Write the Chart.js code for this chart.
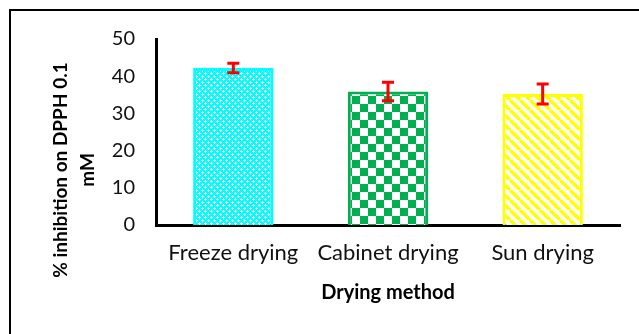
<!DOCTYPE html>
<html>
<head>
<meta charset="utf-8">
<script src="https://cdn.jsdelivr.net/npm/chart.js@4"></script>
<style>
  html, body { margin: 0; padding: 0; background: #fff; }
  #wrap { width: 639px; height: 334px; }
</style>
</head>
<body>
<div id="wrap"><canvas id="grafico" width="639" height="334"></canvas></div>
<script>
// dados
const metodos = ['Freeze drying', 'Cabinet drying', 'Sun drying'];
const inibicao = [42.2, 35.9, 35.2];
const erros = [1.3, 2.5, 2.7];
const ticksY = [0, 10, 20, 30, 40, 50];

const fonte = 'Lato, "Open Sans", sans-serif';

// padroes de preenchimento
function padrao(tipo) {
    const c = document.createElement('canvas');
    const g = c.getContext('2d');
    if (tipo === 'pontos') {
        c.width = 6; c.height = 6;
        g.fillStyle = '#00FFFF';
        g.fillRect(0, 0, 6, 6);
        g.fillStyle = '#FFFFFF';
        g.fillRect(1, 0, 1, 3);
        g.fillRect(0, 1, 3, 1);
        g.fillRect(4, 3, 1, 3);
        g.fillRect(3, 4, 3, 1);
    } else if (tipo === 'xadrez') {
        c.width = 16; c.height = 16;
        g.fillStyle = '#FFFFFF';
        g.fillRect(0, 0, 16, 16);
        g.fillStyle = '#00B050';
        g.fillRect(0, 0, 8, 8);
        g.fillRect(8, 8, 8, 8);
    } else {
        c.width = 10; c.height = 10;
        g.fillStyle = '#FFFFFF';
        g.fillRect(0, 0, 10, 10);
        g.strokeStyle = '#FFFF00';
        g.lineWidth = 3.5;
        g.beginPath();
        for (let k = -10; k <= 10; k += 10) {
            g.moveTo(k, 0);
            g.lineTo(k + 10, 10);
        }
        g.stroke();
    }
    return g.createPattern(c, 'repeat');
}

const moldura = {
    id: 'moldura',
    beforeDraw(chart) {
        const ctx = chart.ctx;
        ctx.save();
        ctx.strokeStyle = '#000';
        ctx.lineWidth = 2;
        ctx.strokeRect(10, 10, 700, 400);
        ctx.restore();
    }
};

const barrasErro = {
    id: 'barrasErro',
    afterDatasetsDraw(chart) {
        const ctx = chart.ctx;
        const y = chart.scales.y;
        const meta = chart.getDatasetMeta(0);
        ctx.save();
        ctx.strokeStyle = '#FF0000';
        ctx.lineWidth = 3;
        meta.data.forEach((bar, i) => {
            const v = inibicao[i];
            const top = y.getPixelForValue(v + erros[i]);
            const bot = y.getPixelForValue(v - erros[i]);
            ctx.beginPath();
            ctx.moveTo(bar.x, top); ctx.lineTo(bar.x, bot);
            ctx.moveTo(bar.x - 6, top); ctx.lineTo(bar.x + 6, top);
            ctx.moveTo(bar.x - 6, bot); ctx.lineTo(bar.x + 6, bot);
            ctx.stroke();
        });
        ctx.restore();
    }
};

const tituloY = {
    id: 'tituloY',
    afterDraw(chart) {
        const ctx = chart.ctx;
        ctx.save();
        ctx.fillStyle = '#000';
        ctx.font = 'bold 19px ' + fonte;
        ctx.textAlign = 'center';
        ctx.textBaseline = 'middle';
        ctx.translate(61, 170);
        ctx.rotate(-Math.PI / 2);
        ctx.fillText('% inhibition on DPPH 0.1', 0, 0);
        ctx.fillText('mM', 0, 27);
        ctx.restore();
    }
};

const ctxBarra = document.getElementById('grafico').getContext('2d');
const grafico = new Chart(ctxBarra, {
    type: 'bar',
    data: {
        labels: metodos,
        datasets: [{
            label: '% inhibition',
            data: inibicao,
            backgroundColor: [padrao('pontos'), padrao('xadrez'), padrao('listras')],
            borderColor: ['#00FFFF', '#00B050', '#FFFF00'],
            borderWidth: 3,
            borderSkipped: 'bottom',
            categoryPercentage: 1,
            barPercentage: 0.52
        }]
    },
    options: {
        responsive: false,
        animation: false,
        devicePixelRatio: 1,
        layout: { padding: { left: 46, top: 39, right: 19, bottom: 0 } },
        plugins: {
            legend: { display: false },
            tooltip: { enabled: false }
        },
        scales: {
            x: {
                grid: { display: false, drawTicks: false },
                border: { color: '#000', width: 3 },
                ticks: { color: '#111', font: { family: fonte, size: 22 }, padding: 15, maxRotation: 0 },
                title: {
                    display: true,
                    text: 'Drying method',
                    color: '#000',
                    font: { family: fonte, size: 20, weight: 'bold' },
                    padding: { top: 0, bottom: 29 }
                },
                afterFit(s) { s.height = 109; }
            },
            y: {
                min: 0,
                max: 50,
                afterBuildTicks(s) { s.ticks = ticksY.map(v => ({ value: v })); },
                grid: { display: false, drawTicks: false },
                border: { color: '#000', width: 3 },
                ticks: { color: '#111', font: { family: fonte, size: 20 }, padding: 21 },
                afterFit(s) { s.width = 110; }
            }
        }
    },
    plugins: [moldura, barrasErro, tituloY]
});
</script>
</body>
</html>
